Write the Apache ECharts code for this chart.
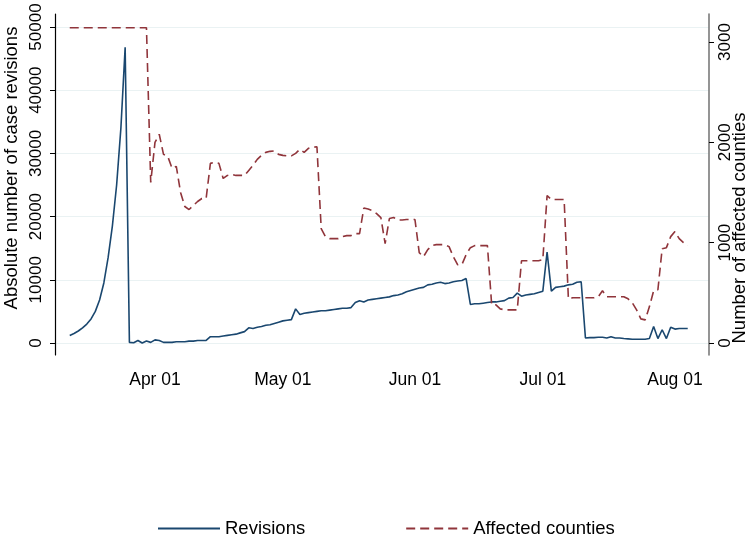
<!DOCTYPE html>
<html>
<head>
<meta charset="utf-8">
<script src="https://cdn.jsdelivr.net/npm/echarts@6/dist/echarts.min.js"></script>
<style>
  html, body { margin: 0; padding: 0; background: #fff; }
  #chart { width: 750px; height: 542px; }
</style>
</head>
<body>
<div id="chart"></div>
<script>
// daily series, Mar 12 2020 -> Aug 4 2020
var startDay = [2020, 2, 12];

// case revisions (left axis)
var revisions = [
  // Mar 12 - Mar 31
  1200, 1500, 1900, 2400, 3000, 3800, 5000, 6800, 9500, 13500, 18500, 25000, 34000, 46800,
  100, 50, 400, 0, 300, 100,
  // Apr
  500, 400, 100, 100, 100, 200, 200, 200, 300, 300, 400, 400, 400, 1000, 1000,
  1000, 1100, 1200, 1300, 1400, 1600, 1800, 2400, 2300, 2500, 2600, 2800, 2900, 3100, 3300,
  // May
  3500, 3600, 3700, 5400, 4500, 4700, 4800, 4900, 5000, 5100, 5100, 5200, 5300, 5400, 5500,
  5500, 5600, 6400, 6700, 6500, 6800, 6900, 7000, 7100, 7200, 7300, 7500, 7600, 7800, 8100, 8300,
  // Jun
  8500, 8700, 8800, 9200, 9300, 9500, 9600, 9400, 9500, 9700, 9800, 9900, 10200, 6100, 6200,
  6200, 6300, 6400, 6500, 6500, 6600, 6700, 7100, 7200, 7900, 7400, 7600, 7700, 7800, 8000,
  // Jul
  8200, 14400, 8200, 8800, 8900, 9000, 9200, 9300, 9600, 9700, 800, 850, 850, 900, 900,
  800, 1000, 800, 800, 700, 650, 600, 600, 600, 600, 700, 2600, 700, 2100, 700, 2500,
  // Aug 1 - 4
  2200, 2300, 2300, 2300
];

// affected counties (right axis)
var counties = [
  // Mar 12 - Mar 31
  3142, 3142, 3142, 3142, 3142, 3142, 3142, 3142, 3142, 3142, 3142, 3142, 3142, 3142,
  3142, 3142, 3142, 3142, 3142, 1600,
  // Apr
  2000, 2080, 1880, 1860, 1740, 1760, 1500, 1360, 1330, 1370, 1410, 1440, 1440, 1790, 1800,
  1790, 1640, 1670, 1680, 1670, 1670, 1670, 1720, 1770, 1830, 1870, 1900, 1910, 1915, 1880,
  // May
  1870, 1865, 1865, 1890, 1930, 1900, 1940, 1950, 1955, 1140, 1060, 1040, 1040, 1040, 1060,
  1070, 1070, 1090, 1090, 1345, 1335, 1320, 1290, 1250, 990, 1240, 1250, 1225, 1225, 1230, 1230,
  // Jun
  1230, 900, 860, 930, 970, 980, 980, 980, 960, 860, 780, 780, 880, 950, 970,
  970, 970, 970, 380, 380, 340, 330, 330, 330, 330, 820, 820, 820, 820, 820,
  // Jul
  830, 1470, 1430, 1430, 1430, 1430, 440, 450, 450, 450, 450, 450, 450, 460, 520,
  460, 460, 460, 460, 460, 440, 400, 330, 240, 230, 360, 520, 530, 940, 950, 1060,
  // Aug 1 - 4
  1110, 1040, 1000, 970
];

var leftTicks = [0, 10000, 20000, 30000, 40000, 50000];
var rightTicks = [0, 1000, 2000, 3000];
var xTickDates = [[2020, 3, 1], [2020, 4, 1], [2020, 5, 1], [2020, 6, 1], [2020, 7, 1]];
var monthNames = ['Jan','Feb','Mar','Apr','May','Jun','Jul','Aug','Sep','Oct','Nov','Dec'];

var DAY = 86400000;
var t0 = Date.UTC(startDay[0], startDay[1], startDay[2]);
var revData = [], cntData = [];
for (var i = 0; i < revisions.length; i++) {
  revData.push([t0 + i * DAY, revisions[i]]);
  cntData.push([t0 + i * DAY, counties[i]]);
}
var xTicks = xTickDates.map(function (d) { return Date.UTC(d[0], d[1], d[2]); });
var apr1 = Date.UTC(2020, 3, 1);

var font = '"Liberation Sans", Arial, sans-serif';
var plain = function (v) { return String(v); };
var chart = echarts.init(document.getElementById('chart'));
chart.setOption({
  backgroundColor: '#fff',
  animation: false,
  grid: { left: 55, right: 41, top: 14, bottom: 187 },
  xAxis: {
    type: 'value',
    min: apr1 - 23.46 * DAY,
    max: apr1 + 129.99 * DAY,
    axisLine: { show: false },
    axisTick: { show: false },
    splitLine: { show: false },
    axisLabel: {
      customValues: xTicks,
      margin: 16,
      fontSize: 17.5,
      fontFamily: font,
      color: '#000',
      formatter: function (v) {
        var d = new Date(v);
        var dd = d.getUTCDate();
        return monthNames[d.getUTCMonth()] + ' ' + (dd < 10 ? '0' + dd : dd);
      }
    }
  },
  yAxis: [{
    type: 'value',
    position: 'left',
    min: -1899,
    max: 52057,
    axisLine: { show: true, lineStyle: { color: '#000', width: 1.2 } },
    axisTick: { show: true, length: 5, customValues: leftTicks, lineStyle: { color: '#000' } },
    axisLabel: { customValues: leftTicks, formatter: plain, rotate: 90, margin: 10, fontSize: 17, fontFamily: font, color: '#000' },
    splitLine: { show: true, lineStyle: { color: '#eaf2f3', width: 1.2 } }
  }, {
    type: 'value',
    position: 'right',
    min: -120,
    max: 3279,
    axisLine: { show: true, lineStyle: { color: '#7a7a7a', width: 1.6 } },
    axisTick: { show: true, length: 5, customValues: rightTicks, lineStyle: { color: '#000' } },
    axisLabel: { customValues: rightTicks, formatter: plain, rotate: 90, margin: 8, fontSize: 17, fontFamily: font, color: '#000' },
    splitLine: { show: false }
  }],
  legend: {
    left: 152,
    top: 514,
    itemWidth: 62,
    itemHeight: 14,
    itemGap: 100,
    itemStyle: { opacity: 0 },
    textStyle: { fontSize: 18.5, fontFamily: font, color: '#000' },
    data: ['Revisions', 'Affected counties']
  },
  graphic: [{
    type: 'text',
    x: 12, y: 168,
    rotation: Math.PI / 2,
    style: { text: 'Absolute number of case revisions', fontSize: 18.5, fontFamily: font, fill: '#000', align: 'center', verticalAlign: 'middle' }
  }, {
    type: 'text',
    x: 740, y: 228,
    rotation: Math.PI / 2,
    style: { text: 'Number of affected counties', fontSize: 18.5, fontFamily: font, fill: '#000', align: 'center', verticalAlign: 'middle' }
  }],
  series: [{
    name: 'Revisions',
    type: 'line',
    yAxisIndex: 0,
    data: revData,
    showSymbol: false,
    symbol: 'none',
    lineStyle: { color: '#1a476f', width: 1.6 },
    itemStyle: { color: '#1a476f' }
  }, {
    name: 'Affected counties',
    type: 'line',
    yAxisIndex: 1,
    data: cntData,
    showSymbol: false,
    symbol: 'none',
    lineStyle: { color: '#90353b', width: 1.6, type: [9, 5] },
    itemStyle: { color: '#90353b' }
  }]
});
</script>
</body>
</html>
